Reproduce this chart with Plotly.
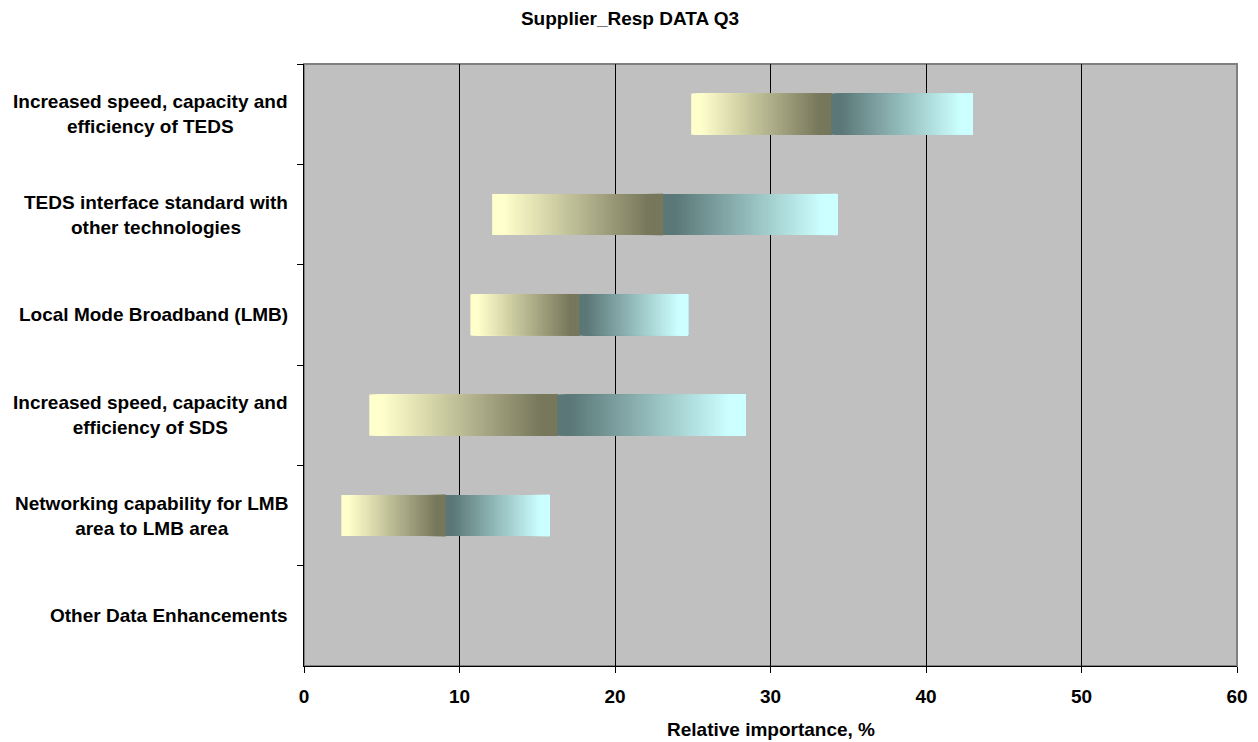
import plotly.graph_objects as go

# ---- data ----
categories = [
    "Increased speed, capacity and<br>efficiency of TEDS",
    "TEDS interface standard with<br>other technologies",
    "Local Mode Broadband (LMB)",
    "Increased speed, capacity and<br>efficiency of SDS",
    "Networking capability for LMB<br>area to LMB area",
    "Other Data Enhancements",
]
low_values = [24.9, 12.1, 10.7, 4.2, 2.4, None]
mid_values = [33.9, 23.1, 17.7, 16.3, 9.1, None]
high_values = [43.0, 34.3, 24.7, 28.4, 15.8, None]
x_ticks = [0, 10, 20, 30, 40, 50, 60]

title_text = "Supplier_Resp DATA Q3"
x_title = "Relative importance, %"

# ---- styling ----
FONT = "Liberation Sans, Arial, sans-serif"
FS = 19
yellow_light = (255, 255, 204)
olive_dark = (119, 119, 92)
teal_dark = (91, 119, 119)
cyan_light = (204, 255, 255)
N_SLICES = 60

W, H = 1258, 742
PL, PR, PT, PB = 304, 21, 64, 76
plot_w = W - PL - PR
plot_h = H - PT - PB


def lerp(c0, c1, t):
    t = min(1.0, max(0.0, (t - 0.06) / 0.86))
    return "rgb(%d,%d,%d)" % tuple(round(a + (b - a) * t) for a, b in zip(c0, c1))


ys, bases, lengths, colors = [], [], [], []
for cat, lo, mi, hi in zip(categories, low_values, mid_values, high_values):
    if lo is None:
        continue
    for a, b, c0, c1 in ((lo, mi, yellow_light, olive_dark), (mi, hi, teal_dark, cyan_light)):
        step = (b - a) / N_SLICES
        for k in range(N_SLICES):
            start = a + k * step
            ys.append(cat)
            bases.append(start)
            lengths.append(b - start)
            colors.append(lerp(c0, c1, k / (N_SLICES - 1)))

fig = go.Figure()
fig.add_trace(go.Bar(
    y=ys, x=lengths, base=bases, orientation="h",
    marker=dict(color=colors, line=dict(width=0)),
    width=0.41, hoverinfo="skip", showlegend=False,
))

# category labels (centered lines, right-aligned block)
for cat in categories:
    fig.add_annotation(
        x=-14 / plot_w, xref="paper", y=cat, yref="y",
        text="<b>%s</b>" % cat, showarrow=False, xanchor="right", yanchor="middle",
        align="center", font=dict(family=FONT, size=FS, color="black"),
    )

# x-axis title
fig.add_annotation(
    x=0.5, xref="paper", y=-63 / plot_h, yref="paper",
    text="<b>%s</b>" % x_title, showarrow=False, xanchor="center", yanchor="middle",
    font=dict(family=FONT, size=FS, color="black"),
)

fig.add_shape(type="rect", xref="paper", yref="paper", x0=0, x1=1, y0=0, y1=1,
              line=dict(color="#808080", width=2), layer="below")

fig.update_layout(
    width=W, height=H,
    margin=dict(l=PL, r=PR, t=PT, b=PB, autoexpand=False),
    paper_bgcolor="white", plot_bgcolor="#C0C0C0",
    barmode="overlay",
    font=dict(family=FONT, size=FS, color="black"),
    title=dict(text="<b>%s</b>" % title_text, x=630 / W, xanchor="center",
               xref="container", y=1 - 18 / H, yanchor="middle", yref="container",
               font=dict(family=FONT, size=FS, color="black")),
    xaxis=dict(range=[0, 60], tickvals=x_ticks, automargin=False,
               ticktext=["<b>%d</b>" % v for v in x_ticks],
               showgrid=True, gridcolor="black", gridwidth=1, zeroline=False,
               showline=True, linecolor="black", linewidth=1,
               ticks="outside", ticklen=6, tickcolor="black",
               ticklabelstandoff=7,
               tickfont=dict(family=FONT, size=FS)),
    yaxis=dict(type="category", categoryorder="array", categoryarray=categories,
               range=[len(categories) - 0.5, -0.5], tickson="boundaries",
               showticklabels=False, automargin=False,
               ticks="outside", ticklen=6, tickcolor="black",
               showgrid=False, showline=True, linecolor="black", linewidth=1,
               zeroline=False),
)

fig.write_html(
    "out.html",
    config={"displayModeBar": False},
    post_script="document.body.style.margin='0';document.body.style.overflow='hidden';",
)
